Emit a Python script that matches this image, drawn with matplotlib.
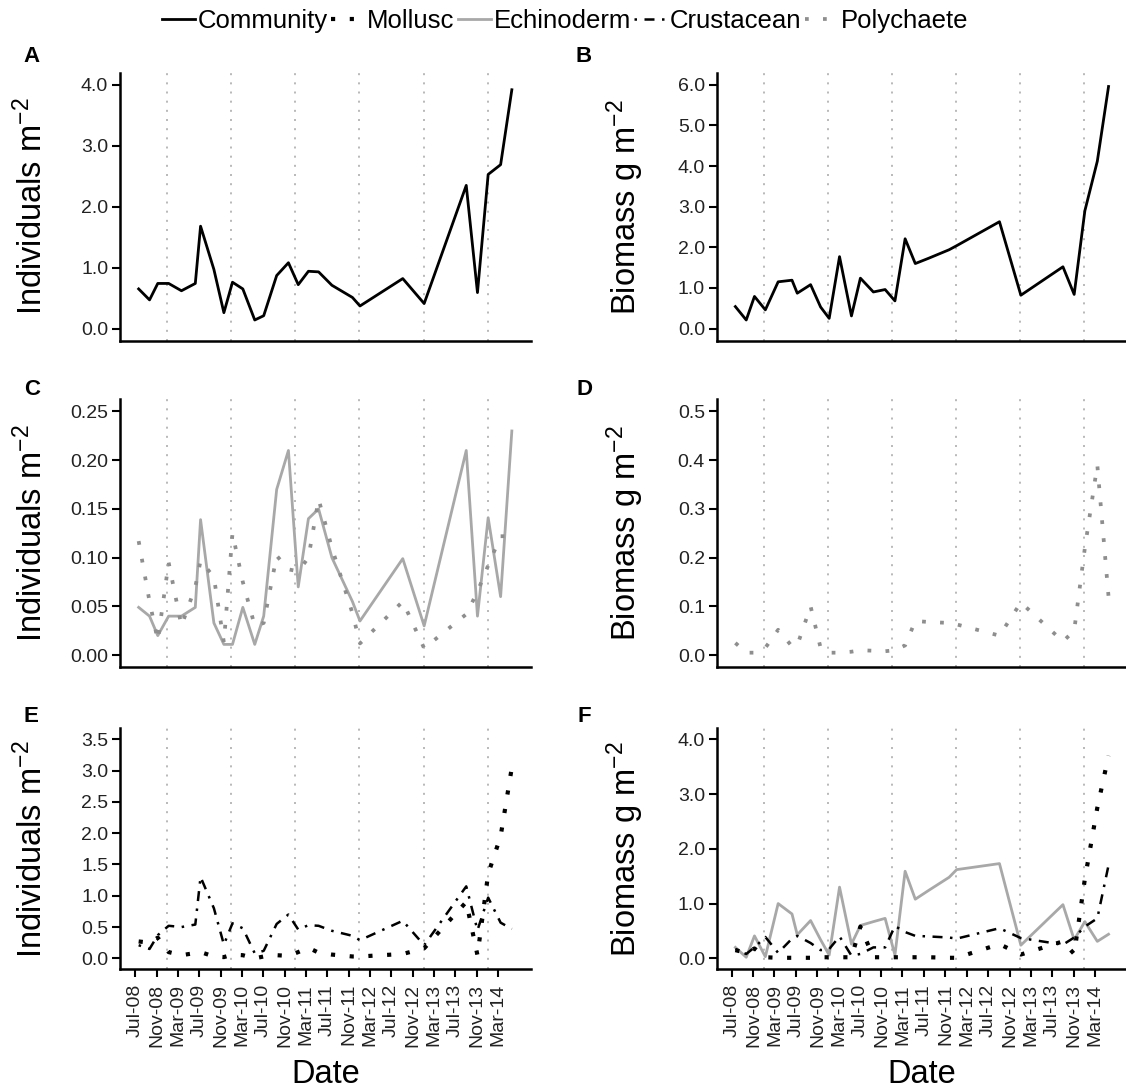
import pandas as pd
import matplotlib
matplotlib.use("Agg")
import matplotlib.pyplot as plt
import matplotlib.dates as mdates
from matplotlib.ticker import MultipleLocator, FormatStrFormatter

plt.rcParams['font.family'] = ['Liberation Sans', 'DejaVu Sans']
plt.rcParams['mathtext.fontset'] = 'custom'
plt.rcParams['mathtext.rm'] = 'Liberation Sans'
plt.rcParams['mathtext.it'] = 'Liberation Sans:italic'

sample_dates = ["2008-07-21", "2008-09-21", "2008-11-07", "2009-01-08", "2009-03-22",
                "2009-06-09", "2009-07-09", "2009-09-23", "2009-11-19", "2010-01-07",
                "2010-03-07", "2010-05-14", "2010-07-04", "2010-09-16", "2010-11-22",
                "2011-01-17", "2011-03-16", "2011-05-13", "2011-07-28", "2011-11-22",
                "2012-01-04", "2012-09-04", "2013-01-04", "2013-09-01", "2013-11-04",
                "2014-01-04", "2014-03-16", "2014-05-19"]

# individuals m-2
community_ind = [0.65, 0.47, 0.74, 0.74, 0.62, 0.74, 1.68, 0.97, 0.26, 0.76, 0.65, 0.14, 0.21, 0.87,
                 1.08, 0.72, 0.94, 0.93, 0.71, 0.51, 0.37, 0.82, 0.41, 2.35, 0.59, 2.53, 2.69, 3.92]
echino_ind = [0.049, 0.040, 0.020, 0.040, 0.040, 0.049, 0.139, 0.033, 0.011, 0.011, 0.049, 0.011, 0.040, 0.170,
              0.210, 0.070, 0.140, 0.150, 0.100, 0.055, 0.035, 0.099, 0.030, 0.210, 0.040, 0.141, 0.060, 0.230]
poly_ind = [0.117, 0.055, 0.015, 0.095, 0.030, 0.070, 0.097, 0.080, 0.013, 0.125, 0.075, 0.030, 0.033, 0.102,
            0.088, 0.086, 0.100, 0.160, 0.110, 0.043, 0.012, 0.055, 0.007, 0.042, 0.065, 0.092, 0.122, 0.122]
mollusc_ind = [0.27, 0.25, 0.33, 0.10, 0.05, 0.085, 0.10, 0.03, 0.02, 0.06, 0.05, 0.00, 0.03, 0.05,
               0.04, 0.10, 0.17, 0.09, 0.06, 0.03, 0.03, 0.07, 0.16, 0.90, 0.05, 1.35, 1.95, 3.05]
crust_ind = [0.21, 0.15, 0.37, 0.52, 0.50, 0.54, 1.30, 0.80, 0.22, 0.56, 0.48, 0.08, 0.12, 0.55,
             0.70, 0.46, 0.53, 0.52, 0.44, 0.36, 0.29, 0.60, 0.21, 1.15, 0.45, 0.97, 0.57, 0.47]

# biomass g m-2
community_bio = [0.54, 0.21, 0.79, 0.46, 1.15, 1.19, 0.87, 1.08, 0.53, 0.25, 1.77, 0.31, 1.24, 0.90,
                 0.96, 0.68, 2.21, 1.60, 1.73, 1.94, 2.04, 2.63, 0.82, 1.52, 0.84, 2.90, 4.12, 5.96]
poly_bio = [0.025, 0.005, 0.005, 0.015, 0.052, 0.018, 0.020, 0.100, 0.015, 0.005, 0.005, 0.007, 0.010, 0.009,
            0.008, 0.010, 0.020, 0.070, 0.068, 0.066, 0.063, 0.040, 0.108, 0.028, 0.050, 0.220, 0.390, 0.120]
mollusc_bio = [0.15, 0.10, 0.18, 0.02, 0.01, 0.01, 0.01, 0.01, 0.02, 0.02, 0.02, 0.02, 0.58, 0.02,
               0.02, 0.02, 0.02, 0.02, 0.02, 0.01, 0.01, 0.26, 0.07, 0.31, 0.08, 1.45, 2.75, 3.70]
echino_bio = [0.20, 0.02, 0.41, 0.03, 1.00, 0.81, 0.43, 0.69, 0.34, 0.06, 1.30, 0.26, 0.60, 0.67,
              0.73, 0.06, 1.59, 1.08, 1.24, 1.48, 1.62, 1.73, 0.24, 0.98, 0.34, 0.67, 0.31, 0.44]
crust_bio = [0.17, 0.08, 0.20, 0.39, 0.10, 0.36, 0.41, 0.28, 0.15, 0.17, 0.40, 0.05, 0.08, 0.20,
             0.20, 0.59, 0.48, 0.41, 0.40, 0.38, 0.36, 0.55, 0.37, 0.25, 0.38, 0.58, 0.73, 1.70]

year_starts = ["2009-01-01", "2010-01-01", "2011-01-01", "2012-01-01", "2013-01-01", "2014-01-01"]

dates = pd.to_datetime(sample_dates)
tick_dates = pd.date_range("2008-07-01", "2014-03-01", freq="4MS")

styles = {
    "Community": dict(color="black", lw=2.0, ls="-"),
    "Mollusc": dict(color="black", lw=3.0, dashes=(1, 3.5)),
    "Echinoderm": dict(color="#a8a8a8", lw=2.0, ls="-"),
    "Crustacean": dict(color="black", lw=1.8, dashes=(1, 3, 4, 3)),
    "Polychaete": dict(color="#8e8e8e", lw=2.7, dashes=(1, 3.8)),
}

ind_label = r"Individuals m$^{-2}$"
bio_label = r"Biomass g m$^{-2}$"

# letter, row, col, ylabel, ymax, step, tick format, series
panels = [
    ("A", 0, 0, ind_label, 4.0, 1.0, "%.1f", [("Community", community_ind)]),
    ("B", 0, 1, bio_label, 6.0, 1.0, "%.1f", [("Community", community_bio)]),
    ("C", 1, 0, ind_label, 0.25, 0.05, "%.2f", [("Echinoderm", echino_ind), ("Polychaete", poly_ind)]),
    ("D", 1, 1, bio_label, 0.5, 0.1, "%.1f", [("Polychaete", poly_bio)]),
    ("E", 2, 0, ind_label, 3.5, 0.5, "%.1f", [("Crustacean", crust_ind), ("Mollusc", mollusc_ind)]),
    ("F", 2, 1, bio_label, 4.0, 1.0, "%.1f", [("Echinoderm", echino_bio), ("Crustacean", crust_bio),
                                               ("Mollusc", mollusc_bio)]),
]

W, H = 1126, 1091
fig = plt.figure(figsize=(W / 100, H / 100), dpi=100)

col_x = [120 / W, 716.7 / W]
col_w = 410.5 / W
row_box = [(72.7, 340.7), (399.3, 667.3), (728.3, 969.3)]
letter_pos = [(32, 56), (584, 56)], [(32, 389), (584, 389)], [(31, 716), (584, 716)]
label_x = [-0.215, -0.222]

dnum = mdates.date2num(dates)
span = dnum.max() - dnum.min()
xlim = (dnum.min() - 0.05 * span, dnum.max() + 0.05 * span)

for letter, r, c, ylab, ymax, step, fmt, series in panels:
    top, bot = row_box[r]
    ax = fig.add_axes([col_x[c], 1 - bot / H, col_w, (bot - top) / H])

    for yd in pd.to_datetime(year_starts):
        ax.axvline(yd, color="#a5a5a5", lw=1.1, dashes=(1.3, 4.7), zorder=0)

    for name, vals in series:
        ax.plot(dates, vals, **styles[name])

    ax.set_xlim(xlim)
    ax.set_ylim(-0.05 * ymax, 1.05 * ymax)
    ax.yaxis.set_major_locator(MultipleLocator(step))
    ax.yaxis.set_major_formatter(FormatStrFormatter(fmt))

    for s in ["top", "right"]:
        ax.spines[s].set_visible(False)
    for s in ["left", "bottom"]:
        ax.spines[s].set_linewidth(1.8)
    ax.tick_params(axis="y", length=5.5, width=1.5, pad=3, labelsize=14, colors="black")
    ax.tick_params(axis="y", labelcolor="#222222")

    if r < 2:
        ax.tick_params(axis="x", bottom=False, labelbottom=False)
    else:
        ax.set_xticks(tick_dates)
        ax.xaxis.set_major_formatter(mdates.DateFormatter("%b-%y"))
        ax.tick_params(axis="x", length=5.5, width=1.5, pad=5, labelsize=14, labelrotation=90,
                       labelcolor="#222222")
        ax.set_xlabel("Date", fontsize=23.5, labelpad=9)

    ax.set_ylabel(ylab, fontsize=23.5, va="center")
    ax.yaxis.set_label_coords(label_x[c], 0.5)

    lx, ly = letter_pos[r][c]
    fig.text(lx / W, 1 - ly / H, letter, fontsize=16, fontweight="bold", ha="center", va="center")

# legend across the top
names = ["Community", "Mollusc", "Echinoderm", "Crustacean", "Polychaete"]
handles = [plt.Line2D([], [], **styles[n]) for n in names]
fig.legend(handles, names, loc="center", bbox_to_anchor=(565 / W, 1 - 21 / H), ncol=5, frameon=False,
           fontsize=18.5, handlelength=1.3, handletextpad=0.1, columnspacing=0.12, borderaxespad=0)

fig.savefig("out.png", dpi=100)
